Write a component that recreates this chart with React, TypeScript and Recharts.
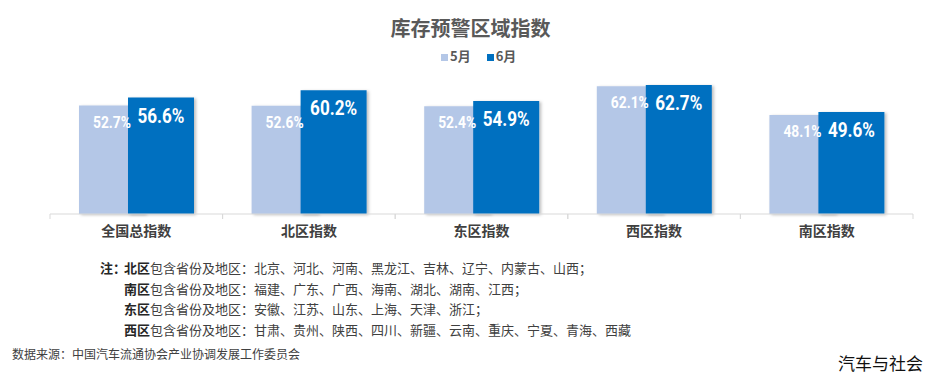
import { Bar, BarChart, LabelList, Legend, XAxis, YAxis } from "recharts"

const categories = ["全国总指数", "北区指数", "东区指数", "西区指数", "南区指数"]
const mayValues = [52.7, 52.6, 52.4, 62.1, 48.1]
const juneValues = [56.6, 60.2, 54.9, 62.7, 49.6]

const notes = [
  { region: "北区", areas: "北京、河北、河南、黑龙江、吉林、辽宁、内蒙古、山西；" },
  { region: "南区", areas: "福建、广东、广西、海南、湖北、湖南、江西；" },
  { region: "东区", areas: "安徽、江苏、山东、上海、天津、浙江；" },
  { region: "西区", areas: "甘肃、贵州、陕西、四川、新疆、云南、重庆、宁夏、青海、西藏" },
]

const data = categories.map((name, i) => ({ name, may: mayValues[i], june: juneValues[i] }))

const cjk = "'Noto Sans CJK SC', 'Noto Sans', sans-serif"
const BAND = 172.6

const CategoryTick = (props: any) => {
  const { x, y, payload } = props
  return (
    <g>
      <line x1={x - BAND / 2} x2={x - BAND / 2} y1={y - 8} y2={y - 3} stroke="#d9d9d9" />
      <line x1={x + BAND / 2} x2={x + BAND / 2} y1={y - 8} y2={y - 3} stroke="#d9d9d9" />
      <text x={x} y={y + 14} textAnchor="middle" fontSize={14} fontWeight="bold" fill="#404040" fontFamily={cjk}>
        {payload.value}
      </text>
    </g>
  )
}

// condensed white value label, squeezed to look like the narrow font in the original
const makeLabel = (size: number, len: number, dy: number) => (props: any) => {
  const { x, y, width, value } = props
  return (
    <text
      x={x + width / 2}
      y={y + dy}
      textAnchor="middle"
      fontSize={size}
      fontWeight="bold"
      fill="#fff"
      fontFamily="'Roboto', 'DejaVu Sans', sans-serif"
      textLength={len}
      lengthAdjust="spacingAndGlyphs"
    >
      {`${Number(value).toFixed(1)}%`}
    </text>
  )
}

export default function App() {
  return (
    <div style={{ position: "absolute", left: 0, top: 0, width: 941, height: 377, background: "#fff", fontFamily: cjk, overflow: "hidden" }}>
      <svg width={0} height={0} style={{ position: "absolute" }}>
        <defs>
          <filter id="barShadow" x="-10%" y="-10%" width="130%" height="120%">
            <feDropShadow dx={2} dy={1} stdDeviation={1.5} floodColor="#000" floodOpacity={0.25} />
          </filter>
        </defs>
      </svg>
      <div style={{ position: "absolute", left: 0, top: 13, width: 941, textAlign: "center", fontSize: 20, fontWeight: "bold", color: "#595959" }}>
        库存预警区域指数
      </div>
      <div style={{ position: "absolute", left: 0, top: 0 }}>
        <BarChart width={941} height={260} data={data} margin={{ top: 51, right: 28, bottom: 0, left: 50 }} barSize={66} barGap={-17}>
          <XAxis dataKey="name" axisLine={{ stroke: "#d9d9d9" }} tickLine={false} height={46} tick={<CategoryTick />} interval={0} />
          <YAxis hide domain={[0, 70]} />
          <Legend
            verticalAlign="top"
            align="center"
            iconType="square"
            iconSize={7}
            wrapperStyle={{ top: 46, left: 441, width: "auto", fontSize: 13, fontWeight: "bold", fontFamily: cjk }}
            formatter={(value: any) => <span style={{ color: "#595959", marginLeft: -2, marginRight: 6 }}>{value}</span>}
          />
          <Bar dataKey="may" name="5月" fill="#B4C7E7" isAnimationActive={false} style={{ filter: "url(#barShadow)" }}>
            <LabelList dataKey="may" content={makeLabel(17, 38, 22)} />
          </Bar>
          <Bar dataKey="june" name="6月" fill="#0070C0" isAnimationActive={false} style={{ filter: "url(#barShadow)" }}>
            <LabelList dataKey="june" content={makeLabel(20, 47, 25)} />
          </Bar>
        </BarChart>
      </div>
      <div style={{ position: "absolute", left: 100, top: 258, fontSize: 13, color: "#404040", lineHeight: "20.5px" }}>
        <span style={{ position: "absolute", left: 0, top: 0, fontWeight: "bold", color: "#262626" }}>注：</span>
        <div style={{ marginLeft: 24 }}>
          {notes.map((n) => (
            <div key={n.region} style={{ whiteSpace: "nowrap" }}>
              <b style={{ color: "#262626" }}>{n.region}</b>包含省份及地区：{n.areas}
            </div>
          ))}
        </div>
      </div>
      <div style={{ position: "absolute", left: 12, top: 345, fontSize: 12, color: "#404040", whiteSpace: "nowrap" }}>
        数据来源：中国汽车流通协会产业协调发展工作委员会
      </div>
      <div style={{ position: "absolute", left: 838, top: 350, fontSize: 17, color: "#111", whiteSpace: "nowrap" }}>
        汽车与社会
      </div>
    </div>
  )
}
